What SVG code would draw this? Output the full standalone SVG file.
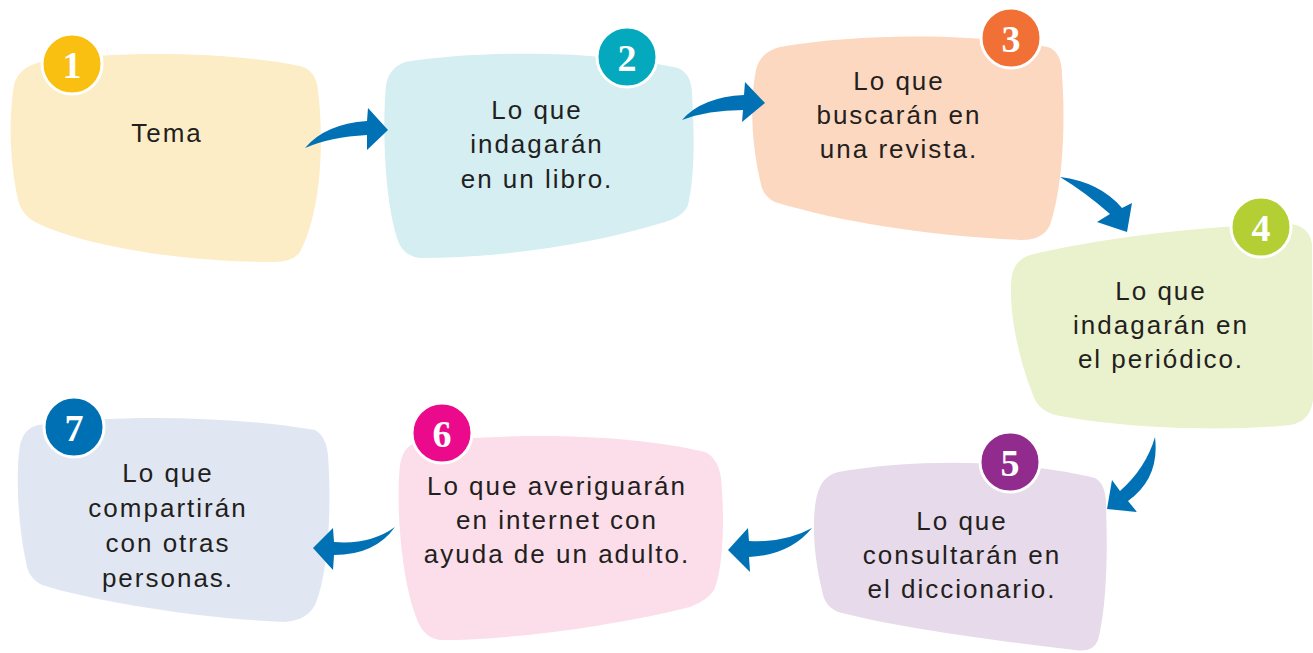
<svg xmlns="http://www.w3.org/2000/svg" width="1313" height="653" viewBox="0 0 1313 653">
<style>
.lbl{font-family:"Liberation Sans",Arial,sans-serif;font-size:26px;letter-spacing:2px;fill:#231F20;text-anchor:middle}
.num{font-family:"Liberation Serif","Times New Roman",serif;font-size:38px;font-weight:bold;fill:#fff;text-anchor:middle}
.badge{stroke:#fff;stroke-width:3}
.arr{fill:#0071B5}
</style>
<rect width="1313" height="653" fill="#fff"/>
<g id="node1">
<path d="M40,62 C120,50 230,52 300,66 Q316,70 318,90 C324,140 322,210 300,252 Q292,263 270,262 C180,262 80,245 35,222 Q20,214 17,195 C8,150 10,110 14,85 Q18,68 40,62 Z" fill="#FDEDC7"/>
<circle class="badge" cx="72" cy="64" r="30" fill="#F9C012"/>
<text class="num" x="72" y="78">1</text>
<text class="lbl" x="167" y="142">Tema</text>
</g>
<g id="node2">
<path d="M405,62 C480,50 600,50 678,68 Q692,74 692,95 C695,140 694,180 688,205 Q684,216 665,222 C590,245 500,258 420,258 Q402,256 397,238 C385,200 382,130 386,85 Q389,68 405,62 Z" fill="#D4EEF2"/>
<circle class="badge" cx="627" cy="57" r="30" fill="#05A9BD"/>
<text class="num" x="627" y="71">2</text>
<text class="lbl" x="537" y="119">Lo que</text>
<text class="lbl" x="537" y="153">indagarán</text>
<text class="lbl" x="537" y="188">en un libro.</text>
</g>
<g id="node3">
<path d="M780,47 C860,33 970,33 1048,47 Q1062,52 1062,75 C1066,130 1062,190 1050,225 Q1043,240 1022,240 C930,236 840,222 775,202 Q762,196 760,180 C751,140 750,100 756,70 Q760,52 780,47 Z" fill="#FDD8C1"/>
<circle class="badge" cx="1011" cy="38" r="30" fill="#F07036"/>
<text class="num" x="1011" y="52">3</text>
<text class="lbl" x="899" y="90">Lo que</text>
<text class="lbl" x="899" y="124">buscarán en</text>
<text class="lbl" x="899" y="158">una revista.</text>
</g>
<g id="node4">
<path d="M1030,255 C1100,238 1200,226 1290,224 Q1310,226 1312,245 L1313,400 Q1310,422 1290,425 C1220,432 1120,428 1055,415 Q1038,410 1033,395 C1015,350 1008,300 1012,275 Q1015,260 1030,255 Z" fill="#E9F1CD"/>
<circle class="badge" cx="1261" cy="227" r="30" fill="#B4CF34"/>
<text class="num" x="1261" y="241">4</text>
<text class="lbl" x="1161" y="300">Lo que</text>
<text class="lbl" x="1161" y="334">indagarán en</text>
<text class="lbl" x="1161" y="368">el periódico.</text>
</g>
<g id="node5">
<path d="M838,472 C920,458 1020,460 1095,478 Q1106,484 1106,505 C1108,560 1106,610 1098,640 Q1093,653 1075,650 C990,640 900,628 838,612 Q824,606 822,590 C812,550 812,510 818,492 Q823,476 838,472 Z" fill="#E7DAEA"/>
<circle class="badge" cx="1010" cy="462" r="30" fill="#922B8E"/>
<text class="num" x="1010" y="476">5</text>
<text class="lbl" x="962" y="530">Lo que</text>
<text class="lbl" x="962" y="564">consultarán en</text>
<text class="lbl" x="962" y="598">el diccionario.</text>
</g>
<g id="node6">
<path d="M415,443 C500,433 620,432 705,452 Q718,458 721,478 C725,520 723,570 714,590 Q708,600 690,607 C610,627 510,640 440,640 Q425,638 418,622 C400,580 396,500 400,465 Q403,447 415,443 Z" fill="#FBDEE9"/>
<circle class="badge" cx="442" cy="433" r="30" fill="#EC0A8C"/>
<text class="num" x="442" y="447">6</text>
<text class="lbl" x="557" y="495">Lo que averiguarán</text>
<text class="lbl" x="557" y="529">en internet con</text>
<text class="lbl" x="557" y="563">ayuda de un adulto.</text>
</g>
<g id="node7">
<path d="M38,425 C120,414 230,416 315,430 Q326,436 328,455 C332,510 328,575 315,605 Q307,620 285,622 C190,618 90,600 42,585 Q28,578 26,562 C17,520 16,470 20,445 Q24,428 38,425 Z" fill="#E1E7F2"/>
<circle class="badge" cx="74" cy="427" r="30" fill="#0070B4"/>
<text class="num" x="74" y="441">7</text>
<text class="lbl" x="168" y="482">Lo que</text>
<text class="lbl" x="168" y="517">compartirán</text>
<text class="lbl" x="168" y="552">con otras</text>
<text class="lbl" x="168" y="587">personas.</text>
</g>
<g id="connectors">
<path class="arr" d="M305,148 Q325,124 367,121 L368,108 L388,130 L367,150 L367,135 Q330,137 305,148 Z"/>
<path class="arr" d="M682,120 Q702,97 744,95 L745,82 L765,103 L742,122 L743,110 Q708,110 682,120 Z"/>
<path class="arr" d="M1060,177 Q1100,182 1122,208 L1132,203 L1127,232 L1097,222 L1110,214 Q1085,192 1060,177 Z"/>
<path class="arr" d="M1155,437 Q1160,478 1128,501 L1137,512 L1107,509 L1112,480 L1120,491 Q1146,468 1155,437 Z"/>
<path class="arr" d="M812,528 Q785,543 749,541 L748,528 L728,550 L750,572 L749,557 Q790,555 812,528 Z"/>
<path class="arr" d="M395,527 Q370,545 334,542 L333,528 L313,548 L333,570 L334,555 Q375,555 395,527 Z"/>
</g>
</svg>
